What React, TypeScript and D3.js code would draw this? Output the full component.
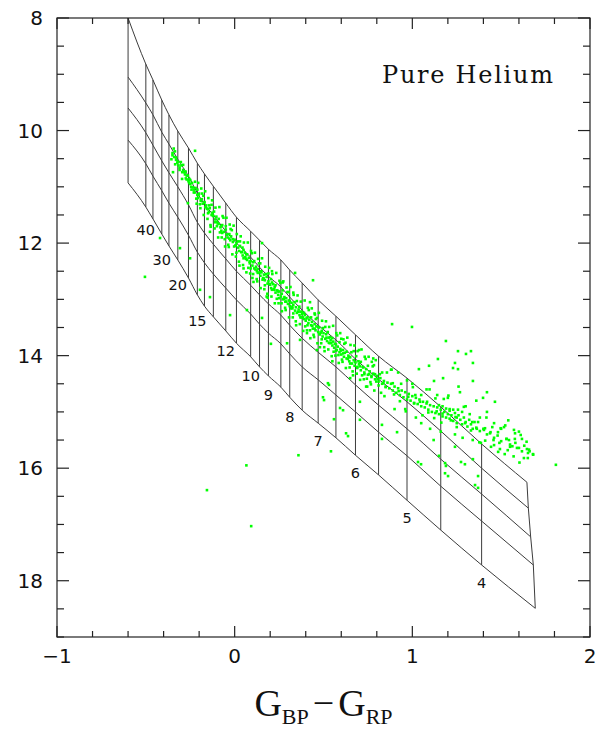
import React from 'react';
import * as d3 from 'd3';

const W = 596;
const H = 734;

// isotherms, Teff in 1000 K (first one is the hot edge of the grid)
const teff = [100, 40, 35, 30, 25, 20, 17, 15, 14, 13, 12, 11, 10, 9.5, 9, 8.5, 8, 7.5, 7, 6.5, 6, 5.5, 5, 4.5, 4, 3.5];
const labelledTeff = [40, 30, 20, 15, 12, 10, 9, 8, 7, 6, 5, 4];
const isoColor = [-0.6, -0.5, -0.46, -0.41, -0.37, -0.32, -0.26, -0.21, -0.17, -0.12, -0.05, 0.01, 0.09, 0.14, 0.19, 0.26, 0.31, 0.38, 0.47, 0.57, 0.68, 0.81, 0.97, 1.16, 1.39, 1.65];
// the coolest isotherm leans a little, one colour per track
const coolEdgeColor = [1.645, 1.653, 1.666, 1.681, 1.692];

// absolute G magnitude of each mass track at every isotherm (low mass on top)
const track1 = [8.0, 8.82, 9.1, 9.46, 9.72, 10.01, 10.31, 10.58, 10.77, 10.99, 11.29, 11.54, 11.79, 11.95, 12.11, 12.3, 12.48, 12.71, 13.01, 13.3, 13.63, 14.01, 14.4, 14.91, 15.57, 16.25];
const track2 = [9.05, 9.51, 9.72, 10.03, 10.24, 10.51, 10.81, 11.11, 11.31, 11.5, 11.79, 12.0, 12.25, 12.43, 12.59, 12.78, 12.96, 13.19, 13.46, 13.72, 14.06, 14.42, 14.82, 15.34, 16.0, 16.71];
const track3 = [9.6, 10.04, 10.26, 10.54, 10.75, 11.0, 11.32, 11.63, 11.82, 12.02, 12.28, 12.5, 12.75, 12.92, 13.08, 13.28, 13.46, 13.69, 13.94, 14.2, 14.52, 14.88, 15.3, 15.84, 16.46, 17.22];
const track4 = [10.17, 10.59, 10.81, 11.07, 11.29, 11.54, 11.86, 12.16, 12.35, 12.55, 12.8, 13.01, 13.26, 13.44, 13.6, 13.79, 13.97, 14.2, 14.43, 14.7, 15.0, 15.36, 15.78, 16.32, 16.94, 17.72];
const track5 = [10.93, 11.36, 11.57, 11.84, 12.05, 12.3, 12.62, 12.92, 13.12, 13.31, 13.56, 13.78, 14.02, 14.2, 14.36, 14.56, 14.74, 14.97, 15.2, 15.46, 15.77, 16.12, 16.57, 17.1, 17.72, 18.49];
const tracks = [track1, track2, track3, track4, track5];

// observed white dwarfs [G_BP - G_RP, M_G]
const seqBlue: [number, number][] = [
  [-0.35, 10.4], [-0.34, 10.47], [-0.33, 10.52], [-0.335, 10.6], [-0.32, 10.55], [-0.31, 10.66], [-0.3, 10.62], [-0.295, 10.74],
  [-0.29, 10.7], [-0.28, 10.78], [-0.275, 10.85], [-0.27, 10.8], [-0.26, 10.9], [-0.255, 10.86], [-0.25, 10.95], [-0.245, 11.0],
  [-0.24, 10.93], [-0.23, 11.05], [-0.225, 11.1], [-0.22, 11.02], [-0.21, 11.14], [-0.205, 11.2], [-0.2, 11.12], [-0.19, 11.25],
  [-0.185, 11.22], [-0.18, 11.3], [-0.17, 11.28], [-0.165, 11.36], [-0.16, 11.33], [-0.15, 11.4], [-0.145, 11.45], [-0.14, 11.38],
  [-0.13, 11.5], [-0.125, 11.46],
  [-0.12, 11.52], [-0.11, 11.58], [-0.1, 11.62], [-0.1, 11.7], [-0.09, 11.66], [-0.08, 11.72], [-0.075, 11.78], [-0.07, 11.68],
  [-0.06, 11.8], [-0.05, 11.76], [-0.045, 11.85], [-0.04, 11.9], [-0.03, 11.84], [-0.025, 11.95], [-0.02, 11.88], [-0.01, 11.98],
  [0.0, 11.94], [0.005, 12.04], [0.01, 12.0], [0.02, 12.08], [0.025, 12.14], [0.03, 12.05], [0.04, 12.16], [0.045, 12.22],
  [0.05, 12.12], [0.06, 12.25], [0.065, 12.2], [0.07, 12.3], [0.08, 12.26], [0.085, 12.36], [0.09, 12.32], [0.1, 12.4],
  [0.105, 12.34], [0.11, 12.45], [0.12, 12.42], [0.125, 12.5], [0.13, 12.46], [0.14, 12.52], [0.145, 12.58], [0.15, 12.5],
  [0.16, 12.62], [0.165, 12.56], [0.17, 12.66], [0.18, 12.6], [0.185, 12.72], [0.19, 12.68], [0.2, 12.74], [0.205, 12.8],
  [0.21, 12.7], [0.22, 12.82], [0.225, 12.78], [0.23, 12.88], [0.24, 12.84], [0.245, 12.92], [0.25, 12.86], [0.26, 12.95],
  [0.265, 12.9], [0.27, 13.0], [0.28, 12.96], [0.285, 13.04], [0.29, 12.98], [0.3, 13.08], [0.305, 13.02], [0.31, 13.12],
  [0.32, 13.06], [0.325, 13.16], [0.33, 13.1], [0.34, 13.2], [0.345, 13.14], [0.35, 13.24], [0.36, 13.18], [0.365, 13.28],
];
const seqMid: [number, number][] = [
  [0.37, 13.22], [0.375, 13.32], [0.38, 13.26], [0.39, 13.35], [0.395, 13.28], [0.4, 13.38], [0.41, 13.32], [0.415, 13.42],
  [0.42, 13.36], [0.43, 13.46], [0.435, 13.4], [0.44, 13.52], [0.45, 13.44], [0.455, 13.55], [0.46, 13.48], [0.47, 13.58],
  [0.475, 13.5], [0.48, 13.62], [0.49, 13.56], [0.495, 13.66], [0.5, 13.6], [0.51, 13.7], [0.515, 13.62], [0.52, 13.74],
  [0.53, 13.68], [0.535, 13.78], [0.54, 13.72], [0.55, 13.82], [0.555, 13.75], [0.56, 13.86], [0.57, 13.8], [0.575, 13.9],
  [0.58, 13.84], [0.59, 13.94], [0.595, 13.88], [0.6, 13.98], [0.61, 13.9], [0.615, 14.02], [0.62, 13.95], [0.63, 14.05],
  [0.64, 14.0], [0.645, 14.1], [0.65, 14.03], [0.66, 14.14], [0.67, 14.08], [0.675, 14.18], [0.68, 14.12], [0.69, 14.22],
  [0.7, 14.15], [0.71, 14.26], [0.72, 14.2], [0.73, 14.3], [0.74, 14.24], [0.75, 14.34], [0.76, 14.28], [0.77, 14.38],
  [0.78, 14.32], [0.79, 14.42], [0.8, 14.36], [0.81, 14.46], [0.82, 14.4], [0.83, 14.5],
];
// the wider wings of the sequence
const seqWide: [number, number][] = [
  [-0.35, 10.44], [-0.343, 10.32], [-0.356, 10.51], [-0.33, 10.48], [-0.323, 10.57], [-0.336, 10.37], [-0.31, 10.7], [-0.303, 10.56],
  [-0.316, 10.62], [-0.29, 10.61], [-0.283, 10.74], [-0.296, 10.86], [-0.27, 10.87], [-0.263, 10.8], [-0.276, 10.73], [-0.25, 10.88],
  [-0.243, 11.05], [-0.256, 10.93], [-0.23, 11.1], [-0.223, 10.91], [-0.236, 11.01], [-0.21, 11.05], [-0.203, 11.15], [-0.216, 11.21],
  [-0.19, 11.24], [-0.183, 11.12], [-0.196, 11.31], [-0.17, 11.27], [-0.163, 11.36], [-0.176, 11.16], [-0.15, 11.47], [-0.143, 11.33],
  [-0.156, 11.39], [-0.13, 11.32], [-0.123, 11.51], [-0.136, 11.68], [-0.11, 11.63], [-0.103, 11.53], [-0.116, 11.44], [-0.09, 11.57],
  [-0.083, 11.81], [-0.096, 11.65], [-0.07, 11.82], [-0.063, 11.55], [-0.076, 11.7], [-0.05, 11.7], [-0.043, 11.85], [-0.056, 11.93],
  [-0.03, 11.92], [-0.023, 11.75], [-0.036, 12.03], [-0.01, 11.93], [-0.003, 12.06], [-0.016, 11.77], [0.01, 12.17], [0.017, 11.97],
  [0.004, 12.05], [0.03, 11.97], [0.037, 12.16], [0.024, 12.33], [0.05, 12.27], [0.057, 12.17], [0.044, 12.08], [0.07, 12.2],
  [0.077, 12.44], [0.064, 12.28], [0.09, 12.45], [0.097, 12.18], [0.084, 12.33], [0.11, 12.32], [0.117, 12.47], [0.104, 12.55],
  [0.13, 12.53], [0.137, 12.36], [0.124, 12.64], [0.15, 12.52], [0.157, 12.65], [0.144, 12.36], [0.17, 12.75], [0.177, 12.55],
  [0.164, 12.63], [0.19, 12.54], [0.197, 12.73], [0.184, 12.9], [0.21, 12.83], [0.217, 12.73], [0.204, 12.64], [0.23, 12.75],
  [0.237, 12.99], [0.224, 12.83], [0.25, 12.98], [0.257, 12.71], [0.244, 12.86], [0.27, 12.84], [0.277, 12.99], [0.264, 13.07],
  [0.29, 13.04], [0.297, 12.87], [0.284, 13.15], [0.31, 13.03], [0.317, 13.16], [0.304, 12.87], [0.33, 13.25], [0.337, 13.05],
  [0.324, 13.13], [0.35, 13.03], [0.357, 13.22], [0.344, 13.39], [0.37, 13.32], [0.377, 13.22], [0.364, 13.13], [0.39, 13.24],
  [0.397, 13.48], [0.384, 13.32], [0.41, 13.46], [0.417, 13.19], [0.404, 13.34], [0.43, 13.32], [0.437, 13.47], [0.424, 13.55],
  [0.45, 13.52], [0.457, 13.35], [0.444, 13.63], [0.47, 13.49], [0.477, 13.62], [0.464, 13.33], [0.49, 13.71], [0.497, 13.51],
  [0.484, 13.59], [0.51, 13.49], [0.517, 13.68], [0.504, 13.85], [0.53, 13.77], [0.537, 13.67], [0.524, 13.58], [0.55, 13.69],
  [0.557, 13.93], [0.544, 13.77], [0.57, 13.91], [0.577, 13.64], [0.564, 13.79], [0.59, 13.76], [0.597, 13.91], [0.584, 13.99],
  [0.61, 13.96], [0.617, 13.79], [0.604, 14.07], [0.63, 13.93], [0.637, 14.06], [0.624, 13.77], [0.65, 14.14], [0.657, 13.94],
  [0.644, 14.02], [0.67, 13.92], [0.677, 14.11], [0.664, 14.28], [0.69, 14.2], [0.697, 14.1], [0.684, 14.01], [0.71, 14.11],
  [0.717, 14.35], [0.704, 14.19], [0.73, 14.33], [0.737, 14.06], [0.724, 14.21], [0.75, 14.18], [0.757, 14.33], [0.744, 14.41],
  [0.77, 14.36], [0.777, 14.19], [0.764, 14.47], [0.79, 14.33], [0.797, 14.46], [0.784, 14.17], [0.81, 14.53], [0.817, 14.33],
  [0.804, 14.41], [0.83, 14.3], [0.837, 14.49], [0.824, 14.66],
];
// outer edge of the sequence, above and below
const seqOuter: [number, number][] = [
  [-0.205, 10.93], [-0.214, 11.3], [-0.166, 11.08], [-0.174, 11.5], [-0.127, 11.24], [-0.135, 11.71], [-0.086, 11.36], [-0.093, 11.9],
  [-0.046, 11.55], [-0.054, 12.06], [-0.006, 11.69], [-0.013, 12.2], [0.034, 11.88], [0.027, 12.4], [0.074, 11.99], [0.066, 12.52],
  [0.114, 12.17], [0.106, 12.69], [0.154, 12.27], [0.146, 12.8], [0.194, 12.44], [0.186, 12.97], [0.234, 12.53], [0.226, 13.07],
  [0.274, 12.68], [0.266, 13.21], [0.314, 12.78], [0.306, 13.32], [0.354, 12.93], [0.346, 13.46], [0.394, 13.02], [0.386, 13.56],
  [0.434, 13.16], [0.426, 13.69], [0.474, 13.24], [0.466, 13.78], [0.514, 13.39], [0.506, 13.92], [0.554, 13.47], [0.546, 14.01],
  [0.594, 13.6], [0.586, 14.13], [0.634, 13.68], [0.626, 14.22], [0.674, 13.82], [0.666, 14.35], [0.714, 13.89], [0.706, 14.43],
  [0.754, 14.02], [0.746, 14.55], [0.794, 14.08], [0.786, 14.62],
  [-0.188, 11.03], [-0.193, 11.38], [-0.148, 11.2], [-0.153, 11.57], [-0.108, 11.37], [-0.113, 11.74], [-0.068, 11.52], [-0.073, 11.9],
  [-0.028, 11.67], [-0.033, 12.07], [0.012, 11.84], [0.007, 12.24], [0.052, 11.99], [0.047, 12.39], [0.092, 12.14], [0.087, 12.54],
  [0.132, 12.28], [0.127, 12.68], [0.172, 12.42], [0.167, 12.82], [0.212, 12.55], [0.207, 12.95], [0.252, 12.67], [0.247, 13.07],
  [0.292, 12.79], [0.287, 13.19], [0.332, 12.92], [0.327, 13.32], [0.372, 13.04], [0.367, 13.44], [0.412, 13.15], [0.407, 13.55],
  [0.452, 13.27], [0.447, 13.67], [0.492, 13.38], [0.487, 13.78], [0.532, 13.49], [0.527, 13.89], [0.572, 13.6], [0.567, 14.0],
  [0.612, 13.71], [0.607, 14.11], [0.652, 13.81], [0.647, 14.21], [0.692, 13.92], [0.687, 14.32], [0.732, 14.02], [0.727, 14.42],
  [0.772, 14.11], [0.767, 14.51],
];
const seqRed: [number, number][] = [
  [0.84, 14.45], [0.85, 14.55], [0.86, 14.48], [0.87, 14.58], [0.88, 14.5], [0.89, 14.62], [0.9, 14.55], [0.91, 14.66],
  [0.92, 14.58], [0.93, 14.7], [0.94, 14.62], [0.95, 14.74], [0.96, 14.65], [0.97, 14.78], [0.98, 14.68], [0.99, 14.8],
  [1.0, 14.72], [1.01, 14.84], [1.02, 14.75], [1.03, 14.86], [1.04, 14.78], [1.05, 14.9], [1.06, 14.82], [1.07, 14.92],
  [1.08, 14.85], [1.09, 14.96], [1.1, 14.88], [1.11, 15.0], [1.12, 14.9], [1.13, 15.02], [1.14, 14.92], [1.15, 15.04],
  [1.15, 14.88], [1.16, 14.96], [1.17, 15.08], [1.17, 14.9], [1.18, 15.0], [1.19, 15.1], [1.19, 14.94], [1.2, 15.04],
  [1.21, 14.98], [1.21, 15.12], [1.22, 15.06], [1.23, 14.96], [1.23, 15.16], [1.24, 15.02], [1.25, 15.1], [1.25, 15.2],
  [1.26, 15.06], [1.27, 15.14], [1.28, 15.0], [1.28, 15.22], [1.29, 15.1], [1.3, 15.18], [1.31, 15.26], [1.32, 15.14],
  [1.33, 15.22], [1.34, 15.3], [1.35, 15.18], [1.36, 15.28], [1.38, 15.34], [1.4, 15.3], [1.42, 15.4], [1.44, 15.36],
  [1.46, 15.46], [1.48, 15.42], [1.5, 15.52], [1.53, 15.48], [1.55, 15.58], [1.58, 15.55], [1.6, 15.64], [1.63, 15.6],
  [1.66, 15.7], [1.68, 15.76],
  [0.85, 14.56], [0.857, 14.3], [0.843, 14.72], [0.89, 14.49], [0.897, 14.69], [0.883, 14.25], [0.93, 14.81], [0.937, 14.5],
  [0.923, 14.63], [0.97, 14.44], [0.977, 14.73], [0.963, 14.99], [1.01, 14.85], [1.017, 14.7], [1.003, 14.56], [1.05, 14.7],
  [1.057, 15.06], [1.043, 14.82], [1.09, 15.01], [1.097, 14.6], [1.083, 14.82], [1.13, 14.76], [1.137, 14.99], [1.123, 15.11],
  [1.17, 15.03], [1.177, 14.77], [1.163, 15.19], [1.21, 14.95], [1.217, 15.15], [1.203, 14.71], [1.25, 15.27], [1.257, 14.96],
  [1.243, 15.09], [1.29, 14.91], [1.297, 15.2], [1.283, 15.46], [1.33, 15.33], [1.337, 15.18], [1.323, 15.04], [1.37, 15.18],
  [1.377, 15.54], [1.363, 15.3], [1.41, 15.51], [1.417, 15.1], [1.403, 15.32], [1.45, 15.27], [1.457, 15.5], [1.443, 15.62],
  [1.49, 15.55], [1.497, 15.29], [1.483, 15.71], [1.53, 15.48], [1.537, 15.68], [1.523, 15.24], [1.57, 15.79], [1.577, 15.48],
  [1.563, 15.61], [1.61, 15.41], [1.617, 15.7], [1.603, 15.9], [1.65, 15.82], [1.657, 15.67], [1.643, 15.53],
];
const scatter: [number, number][] = [
  [-0.223, 10.36], [-0.263, 11.29], [-0.347, 10.74], [-0.308, 12.09], [-0.42, 11.91], [-0.505, 12.6], [-0.251, 12.27],
  [-0.139, 12.96], [-0.195, 12.83], [-0.139, 11.8],
  [0.154, 12.0], [0.34, 12.53], [0.441, 12.66], [-0.026, 13.28], [0.069, 13.19], [0.154, 13.33], [0.204, 13.79],
  [0.295, 13.78], [0.407, 13.6], [0.424, 13.05], [0.368, 13.72], [0.463, 13.9], [0.525, 14.49], [0.593, 14.93],
  [0.497, 14.74], [0.1, 12.62], [0.21, 12.5], [0.05, 12.45], [0.27, 12.7], [0.18, 12.95], [0.33, 12.88],
  [0.359, 15.77], [0.542, 15.7], [0.638, 15.43], [0.829, 15.48], [0.914, 15.36], [0.829, 15.23], [0.705, 15.14],
  [0.61, 14.97], [0.503, 14.79], [0.531, 14.52], [0.559, 15.13], [0.705, 14.82], [0.886, 13.44], [0.998, 13.49],
  [0.627, 15.38], [0.45, 13.25], [0.6, 13.7], [0.7, 13.9], [0.78, 14.05], [0.55, 14.1], [0.65, 14.4], [0.74, 14.55],
  [0.48, 13.85],
  [1.189, 13.74], [1.257, 13.92], [1.302, 13.97], [1.33, 13.92], [1.24, 14.13], [1.229, 14.22], [1.257, 14.24],
  [1.341, 14.13], [1.341, 14.45], [1.144, 14.06], [1.094, 14.18], [1.037, 14.24], [1.173, 14.4], [1.122, 14.45],
  [1.268, 14.65], [1.42, 14.65], [1.465, 14.82], [1.398, 14.75], [1.516, 15.27], [1.572, 15.32], [1.617, 15.48],
  [1.645, 15.66], [1.679, 15.75], [1.628, 15.82], [1.55, 15.62], [1.493, 15.66], [1.386, 15.55], [1.46, 15.59],
  [1.589, 15.64], [1.651, 15.73], [1.544, 15.5], [1.578, 15.38], [1.482, 15.36], [1.437, 15.38], [1.409, 15.29],
  [1.049, 15.93], [1.189, 15.96], [1.201, 16.14], [1.296, 15.93], [1.37, 16.14], [1.37, 16.35], [1.341, 15.84],
  [1.24, 15.62], [1.15, 15.78], [1.032, 15.89], [1.184, 15.91], [1.274, 15.89], [1.353, 16.3], [1.184, 16.09],
  [0.92, 14.3], [0.96, 14.95], [1.0, 14.5], [1.05, 15.2], [1.08, 14.6], [1.1, 15.3], [1.14, 14.7], [1.16, 15.35],
  [1.2, 14.75], [1.24, 15.4], [1.3, 14.9], [1.34, 15.5], [1.38, 15.1], [1.42, 15.0], [1.46, 15.2], [1.5, 15.3],
  [1.54, 15.15], [1.12, 15.5], [0.9, 14.95], [0.88, 14.25], [1.02, 15.1], [1.26, 14.55], [1.36, 14.8], [1.52, 15.75],
  [1.6, 15.35],
];
const outliers: [number, number][] = [[1.808, 15.94], [-0.156, 16.39], [0.093, 17.03], [0.066, 15.95]];

const xTicks = [-1, 0, 1, 2];
const yTicks = [8, 10, 12, 14, 16, 18];

const x = d3.scaleLinear().domain([-1, 2]).range([57, 590]);
const y = d3.scaleLinear().domain([8, 19]).range([18, 637]);

const colorAt = (k: number, i: number) => (i === teff.length - 1 ? coolEdgeColor[k] : isoColor[i]);

export default function App() {
  const last = teff.length - 1;
  const trackLine = d3
    .line<[number, number]>()
    .x((d) => x(d[0]))
    .y((d) => y(d[1]))
    .curve(d3.curveMonotoneX);
  const isoLine = d3
    .line<[number, number]>()
    .x((d) => x(d[0]))
    .y((d) => y(d[1]));

  const trackPts = tracks.map((mags, k) => mags.map((m, i) => [colorAt(k, i), m] as [number, number]));
  const isoPts = teff.map((_, i) => tracks.map((mags, k) => [colorAt(k, i), mags[i]] as [number, number]));

  // temperature labels sit just under the bottom track, a bit lower where it is steep
  const labels = labelledTeff.map((t) => {
    const i = teff.indexOf(t);
    const px = x(colorAt(4, i));
    const py = y(track5[i]);
    const i0 = Math.max(0, i - 1);
    const i1 = Math.min(last, i + 1);
    const slope = (y(track5[i1]) - y(track5[i0])) / (x(colorAt(4, i1)) - x(colorAt(4, i0)));
    return { t, px, py: py + 10 + 9 * slope };
  });

  const xMinor = d3.range(-1, 2.001, 0.2).filter((v) => Math.abs(v - Math.round(v)) > 1e-6);
  const yMinor = d3.range(8, 19.001, 0.5).filter((v) => !yTicks.includes(v));
  const [x0, x1] = x.range();
  const [y0, y1] = y.range();
  const ink = '#222';
  const stars = [...seqBlue, ...seqMid, ...seqWide, ...seqOuter, ...seqRed, ...scatter, ...outliers];

  return (
    <svg width={W} height={H} style={{ position: 'absolute', left: 0, top: 0, background: '#fff' }}>
      <g fill="none" stroke="#3c3c3c" strokeWidth={1}>
        {isoPts.map((pts, i) => (
          <path key={'iso' + i} d={isoLine(pts) || ''} />
        ))}
        {trackPts.map((pts, k) => (
          <path key={'tr' + k} d={trackLine(pts) || ''} />
        ))}
      </g>
      <g fill="#00ff00">
        {stars.map((d, i) => (
          <rect key={i} x={x(d[0]) - 1.3} y={y(d[1]) - 1.3} width={2.6} height={2.6} />
        ))}
      </g>
      <g fontFamily="DejaVu Sans" fontSize={14.5} fill="#111" textAnchor="middle">
        {labels.map((l) => (
          <text key={l.t} x={l.px} y={l.py} dy="0.36em">
            {l.t}
          </text>
        ))}
      </g>
      <g stroke={ink} strokeWidth={1.2} fill="none">
        <rect x={x0} y={y0} width={x1 - x0} height={y1 - y0} />
        {xTicks.map((v) => (
          <g key={'xM' + v}>
            <line x1={x(v)} x2={x(v)} y1={y1} y2={y1 - 11} />
            <line x1={x(v)} x2={x(v)} y1={y0} y2={y0 + 11} />
          </g>
        ))}
        {xMinor.map((v) => (
          <g key={'xm' + v}>
            <line x1={x(v)} x2={x(v)} y1={y1} y2={y1 - 6} />
            <line x1={x(v)} x2={x(v)} y1={y0} y2={y0 + 6} />
          </g>
        ))}
        {yTicks.map((v) => (
          <g key={'yM' + v}>
            <line x1={x0} x2={x0 + 12} y1={y(v)} y2={y(v)} />
            <line x1={x1} x2={x1 - 12} y1={y(v)} y2={y(v)} />
          </g>
        ))}
        {yMinor.map((v) => (
          <g key={'ym' + v}>
            <line x1={x0} x2={x0 + 7} y1={y(v)} y2={y(v)} />
            <line x1={x1} x2={x1 - 7} y1={y(v)} y2={y(v)} />
          </g>
        ))}
      </g>
      <g fontFamily="DejaVu Sans" fontSize={20} fill="#111">
        {xTicks.map((v) => (
          <text key={'xl' + v} x={x(v)} y={663} textAnchor="middle">
            {v < 0 ? '\u2212' + Math.abs(v) : v}
          </text>
        ))}
        {yTicks.map((v) => (
          <text key={'yl' + v} x={43} y={y(v)} dy="0.36em" textAnchor="end">
            {v}
          </text>
        ))}
      </g>
      <text x={382} y={83} fontFamily="DejaVu Serif" fontSize={24} fill="#111" textLength={171} lengthAdjust="spacing">
        Pure Helium
      </text>
      <text x={(x0 + x1) / 2} y={716} textAnchor="middle" fontFamily="Liberation Serif" fontSize={38} fill="#111">
        <tspan>G</tspan>
        <tspan fontSize={22} dy={8}>BP</tspan>
        <tspan dy={-8} dx={4}>{'\u2212'}</tspan>
        <tspan dx={4}>G</tspan>
        <tspan fontSize={22} dy={8}>RP</tspan>
      </text>
    </svg>
  );
}
